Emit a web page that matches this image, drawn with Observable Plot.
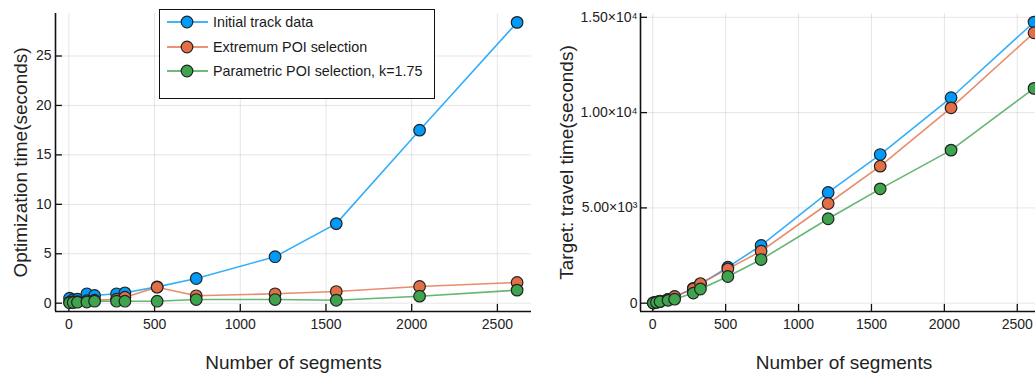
<!DOCTYPE html>
<html>
<head>
<meta charset="utf-8">
<script src="https://cdn.jsdelivr.net/npm/d3@7"></script>
<script src="https://cdn.jsdelivr.net/npm/@observablehq/plot@0.6"></script>
<style>
  html, body { margin: 0; padding: 0; background: #fff; overflow: hidden; }
  #wrap { position: relative; width: 1035px; height: 383px; overflow: hidden; font-family: "Liberation Sans", Arial, sans-serif; }
  #left, #right { position: absolute; top: 0; }
  #left { left: 0; }
  #right { left: 531px; }
  #legend { position: absolute; left: 159px; top: 9px; width: 274px; height: 88px; border: 1.3px solid #111; background: #fff; z-index: 5; }
  .row { position: absolute; left: 0; height: 20px; display: flex; align-items: center; }
  .row span { font-size: 14.3px; color: #1a1a1a; margin-left: 5px; }
</style>
</head>
<body>
<div id="wrap">
  <div id="left"></div>
  <div id="right"></div>
  <div id="legend"></div>
</div>
<script>
// ---- data ----
const segments = [4, 25, 50, 105, 150, 278, 327, 515, 743, 1203, 1560, 2046, 2615];
const seriesNames = ["Initial track data", "Extremum POI selection", "Parametric POI selection, k=1.75"];
const seriesColors = ["#009AFA", "#E36F47", "#3EA44E"];

// Optimization time (seconds)
const optInitial    = [0.5, 0.35, 0.4, 0.95, 0.78, 0.95, 1.05, 1.65, 2.5, 4.7, 8.05, 17.5, 28.4];
const optExtremum   = [0.1, 0.12, 0.15, 0.25, 0.3, 0.4, 0.6, 1.62, 0.75, 0.95, 1.18, 1.69, 2.1];
const optParametric = [0.05, 0.07, 0.1, 0.12, 0.2, 0.2, 0.2, 0.2, 0.37, 0.37, 0.3, 0.71, 1.32];

// Target travel time (seconds)
const travelInitial    = [20, 60, 110, 200, 330, 780, 1000, 1890, 3030, 5810, 7800, 10780, 14750];
const travelExtremum   = [15, 55, 100, 200, 350, 750, 1030, 1800, 2730, 5230, 7190, 10250, 14190];
const travelParametric = [10, 40, 80, 150, 210, 530, 745, 1400, 2290, 4430, 6000, 8030, 11270];

const xTicks = [0, 500, 1000, 1500, 2000, 2500];
const yTicksLeft = [0, 5, 10, 15, 20, 25];
const yTicksRight = [0, 5000, 10000, 15000];
const yTickLabelsRight = ["0", "5.00×10³", "1.00×10⁴", "1.50×10⁴"];
const xLabel = "Number of segments";
const yLabelLeft = "Optimization time(seconds)";
const yLabelRight = "Target: travel time(seconds)";

function makeChart({width, marginLeft, xDomain, yDomain, yTicks, yFormat, yFontSize, yPad, seriesValues, yLabel, yLabelDx, xLabelDx}) {
  const height = 383, marginTop = 13, marginBottom = 72, marginRight = 0;
  const plotH = height - marginTop - marginBottom;
  const plotW = width - marginLeft - marginRight;
  const marks = [
    Plot.gridX(xTicks, {stroke: "#000", strokeOpacity: 0.1, strokeWidth: 1}),
    Plot.gridY(yTicks, {stroke: "#000", strokeOpacity: 0.1, strokeWidth: 1}),
    Plot.axisX(xTicks, {tickSize: 0, tickPadding: 8, fontSize: 14, fill: "#222", tickFormat: d => String(d), label: null}),
    Plot.axisY(yTicks, {tickSize: 0, tickPadding: yPad, fontSize: yFontSize, fill: "#222", tickFormat: yFormat, label: null}),
    Plot.tickX(xTicks, {x: d => d, insetTop: plotH - 7, stroke: "#111", strokeWidth: 1.3}),
    Plot.tickY(yTicks, {y: d => d, insetRight: plotW - 7, stroke: "#111", strokeWidth: 1.3}),
    Plot.ruleX([xDomain[0]], {stroke: "#111", strokeWidth: 1.6}),
    Plot.ruleY([yDomain[0]], {stroke: "#111", strokeWidth: 1.6}),
  ];
  seriesValues.forEach((vals, i) => {
    const data = segments.map((s, j) => ({x: s, y: vals[j]}));
    marks.push(Plot.line(data, {x: "x", y: "y", stroke: seriesColors[i], strokeWidth: 1.6, strokeOpacity: 0.8}));
    marks.push(Plot.dot(data, {x: "x", y: "y", r: 5.8, fill: seriesColors[i], stroke: "#222", strokeWidth: 1.2}));
  });
  marks.push(Plot.text([xLabel], {frameAnchor: "bottom", textAnchor: "middle", dy: 57, dx: xLabelDx, fontSize: 19, fill: "#222"}));
  marks.push(Plot.text([yLabel], {frameAnchor: "left", textAnchor: "middle", rotate: -90, dx: yLabelDx, fontSize: 19, fill: "#222"}));
  return Plot.plot({
    width, height, marginLeft, marginRight, marginTop, marginBottom,
    style: {fontFamily: "'Liberation Sans', Arial, sans-serif", background: "transparent"},
    x: {domain: xDomain},
    y: {domain: yDomain},
    marks
  });
}

document.getElementById("left").append(makeChart({
  width: 531, marginLeft: 55,
  xDomain: [-78, 2699], yDomain: [-0.84, 29.3],
  yTicks: yTicksLeft, yFormat: d => String(d), yFontSize: 14, yPad: 4,
  seriesValues: [optInitial, optExtremum, optParametric],
  yLabel: yLabelLeft, yLabelDx: -35, xLabelDx: 0
}));

document.getElementById("right").append(makeChart({
  width: 504, marginLeft: 109,
  xDomain: [-84, 2625], yDomain: [-436, 15200],
  yTicks: yTicksRight, yFormat: d => yTickLabelsRight[yTicksRight.indexOf(d)], yFontSize: 14, yPad: 3,
  seriesValues: [travelInitial, travelExtremum, travelParametric],
  yLabel: yLabelRight, yLabelDx: -74, xLabelDx: 6
}));

// legend
const legend = document.getElementById("legend");
const rowTops = [21, 45.5, 70];
seriesNames.forEach((name, i) => {
  const row = document.createElement("div");
  row.className = "row";
  row.style.top = (rowTops[i] - 9 - 10) + "px";
  row.style.left = "7px";
  row.innerHTML = `<svg width="41" height="20"><line x1="0" y1="10" x2="41" y2="10" stroke="${seriesColors[i]}" stroke-width="1.5"/><circle cx="20" cy="10" r="5.8" fill="${seriesColors[i]}" stroke="#222" stroke-width="1.2"/></svg><span></span>`;
  row.querySelector("span").textContent = name;
  legend.append(row);
});
</script>
</body>
</html>
